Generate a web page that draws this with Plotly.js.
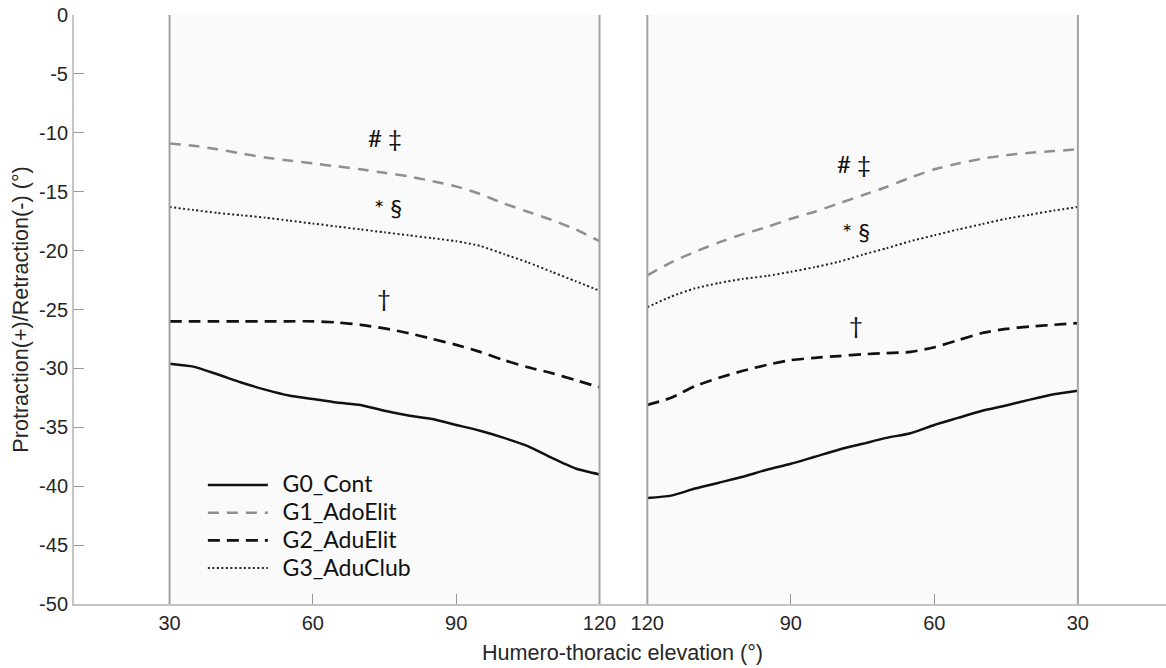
<!DOCTYPE html>
<html>
<head>
<meta charset="utf-8">
<script src="https://cdn.plot.ly/plotly-3.0.1.min.js"></script>
<style>
html,body{margin:0;padding:0;background:#fff;}
#chart{width:1166px;height:668px;}
</style>
</head>
<body>
<div id="chart"></div>
<script>
// Elevation phase (left panel), humero-thoracic elevation in degrees
const elevLeft = [30, 35, 40, 45, 50, 55, 60, 65, 70, 75, 80, 85, 90, 95, 100, 105, 110, 115, 120];
const g0Left = [-29.6, -29.85, -30.5, -31.2, -31.8, -32.3, -32.6, -32.9, -33.1, -33.6, -34.0, -34.3, -34.8, -35.3, -35.9, -36.6, -37.6, -38.5, -39.0];
const g1Left = [-10.9, -11.1, -11.4, -11.75, -12.1, -12.35, -12.6, -12.85, -13.1, -13.4, -13.7, -14.1, -14.55, -15.2, -16.0, -16.7, -17.4, -18.2, -19.2];
const g2Left = [-26.0, -26.0, -26.0, -26.0, -26.0, -26.0, -26.0, -26.1, -26.3, -26.6, -27.0, -27.5, -28.0, -28.6, -29.3, -29.9, -30.4, -31.0, -31.6];
const g3Left = [-16.3, -16.55, -16.8, -17.0, -17.2, -17.45, -17.7, -17.95, -18.2, -18.45, -18.7, -18.95, -19.2, -19.6, -20.3, -21.0, -21.8, -22.6, -23.4];

// Lowering phase (right panel), elevation runs from 120 back to 30
const elevRight = [120, 115, 110, 105, 100, 95, 90, 85, 80, 75, 70, 65, 60, 55, 50, 45, 40, 35, 30];
const g0Right = [-41.0, -40.8, -40.2, -39.7, -39.2, -38.6, -38.1, -37.5, -36.9, -36.4, -35.9, -35.5, -34.8, -34.2, -33.6, -33.15, -32.65, -32.2, -31.9];
const g1Right = [-22.1, -21.0, -20.1, -19.3, -18.6, -18.0, -17.3, -16.7, -16.0, -15.3, -14.6, -13.8, -13.1, -12.6, -12.2, -11.9, -11.7, -11.55, -11.4];
const g2Right = [-33.1, -32.5, -31.5, -30.8, -30.2, -29.7, -29.3, -29.1, -28.95, -28.8, -28.7, -28.6, -28.2, -27.6, -27.0, -26.65, -26.45, -26.3, -26.15];
const g3Right = [-24.8, -23.9, -23.2, -22.75, -22.4, -22.15, -21.8, -21.4, -20.95, -20.35, -19.8, -19.2, -18.7, -18.2, -17.75, -17.3, -16.95, -16.6, -16.3];

const groupNames = ['G0_Cont', 'G1_AdoElit', 'G2_AduElit', 'G3_AduClub'];
const xTicks = [30, 60, 90, 120];
const yTicks = [0, -5, -10, -15, -20, -25, -30, -35, -40, -45, -50];

// significance marks: [panel, elevation, value, text]
const marks = [
  ['left', 75.2, -10.4, '# ‡'],
  ['left', 75.8, -16.3, '* §'],
  ['left', 74.8, -24.0, '†'],
  ['right', 76.7, -12.6, '# ‡'],
  ['right', 76.3, -18.4, '* §'],
  ['right', 76.3, -26.3, '†']
];

const styles = [
  {color: '#111111', width: 2.5, dash: 'solid'},
  {color: '#8f8f8f', width: 2.5, dash: '11px,8px'},
  {color: '#111111', width: 2.7, dash: '12px,7px'},
  {color: '#222222', width: 2.0, dash: '2px,2.5px'}
];

const leftSeries = [g0Left, g1Left, g2Left, g3Left];
const rightSeries = [g0Right, g1Right, g2Right, g3Right];

const legendLabel = n => '\u00a0\u00a0<span style="font-size:23px">' + n + '</span>';

const traces = [];
leftSeries.forEach((ys, i) => {
  traces.push({
    x: elevLeft, y: ys, type: 'scatter', mode: 'lines',
    name: legendLabel(groupNames[i]), legendgroup: groupNames[i], showlegend: true,
    line: Object.assign({shape: 'spline', smoothing: 0.6}, styles[i]),
    xaxis: 'x', yaxis: 'y', hoverinfo: 'x+y+name'
  });
});
rightSeries.forEach((ys, i) => {
  traces.push({
    x: elevRight, y: ys, type: 'scatter', mode: 'lines',
    name: legendLabel(groupNames[i]), legendgroup: groupNames[i], showlegend: false,
    line: Object.assign({shape: 'spline', smoothing: 0.6}, styles[i]),
    xaxis: 'x2', yaxis: 'y', hoverinfo: 'x+y+name'
  });
});

const tickFont = {family: 'Arial, "Liberation Sans", sans-serif', size: 20, color: '#262626'};
const axisGray = '#c4c4c4';
const split = 0.5031;

const shapes = [];
['x', 'x2'].forEach(xr => {
  shapes.push({type: 'rect', xref: xr, yref: 'y', x0: 30, x1: 120, y0: -50, y1: 0,
    fillcolor: '#fafafa', line: {width: 0}, layer: 'below'});
  [30, 120].forEach(v => shapes.push({type: 'line', xref: xr, yref: 'y', x0: v, x1: v, y0: -50, y1: 0,
    line: {color: '#a3a3a3', width: 2}, layer: 'above'}));
});

const annotations = marks.map(m => ({
  xref: m[0] === 'left' ? 'x' : 'x2', yref: 'y', x: m[1], y: m[2], text: m[3],
  showarrow: false, font: {family: 'Lato, "Noto Sans", sans-serif', size: 24, color: '#111111'}
}));
annotations.push({
  xref: 'paper', yref: 'paper', x: 0.502, y: -0.0815, xanchor: 'center', yanchor: 'middle',
  text: 'Humero-thoracic elevation (°)', showarrow: false,
  font: {family: 'Arial, "Liberation Sans", sans-serif', size: 21.6, color: '#262626'}
});

const layout = {
  width: 1166, height: 668,
  margin: {l: 74, r: 0, t: 15, b: 64},
  paper_bgcolor: '#ffffff', plot_bgcolor: '#ffffff',
  showlegend: true,
  legend: {
    x: 0.118, y: 0.234, xanchor: 'left', yanchor: 'top',
    bgcolor: 'rgba(0,0,0,0)', borderwidth: 0,
    font: {family: 'Lato, "Noto Sans", sans-serif', size: 19, color: '#111111'},
    itemwidth: 60, tracegroupgap: 0
  },
  xaxis: {
    domain: [0, split], range: [10, 125], anchor: 'y',
    tickvals: xTicks, ticktext: xTicks.map(String),
    ticks: 'inside', ticklen: 10, tickcolor: '#9a9a9a', tickwidth: 1,
    showline: true, linecolor: axisGray, linewidth: 2,
    showgrid: false, zeroline: false, tickfont: tickFont, fixedrange: true
  },
  xaxis2: {
    domain: [split, 1], range: [125, 11.58], anchor: 'y',
    tickvals: xTicks, ticktext: xTicks.map(String),
    ticks: 'inside', ticklen: 10, tickcolor: '#9a9a9a', tickwidth: 1,
    showline: true, linecolor: axisGray, linewidth: 2,
    showgrid: false, zeroline: false, tickfont: tickFont, fixedrange: true
  },
  yaxis: {
    range: [-50, 0], tickvals: yTicks, ticktext: yTicks.map(String),
    ticks: 'inside', ticklen: 10, tickcolor: '#9a9a9a', tickwidth: 1,
    showline: true, linecolor: axisGray, linewidth: 2,
    showgrid: false, zeroline: false, tickfont: tickFont, fixedrange: true,
    title: {text: 'Protraction(+)/Retraction(-) (°)', standoff: 5,
      font: {family: 'Arial, "Liberation Sans", sans-serif', size: 21.6, color: '#262626'}}
  },
  shapes: shapes,
  annotations: annotations
};

Plotly.newPlot('chart', traces, layout, {displayModeBar: false});
</script>
</body>
</html>
